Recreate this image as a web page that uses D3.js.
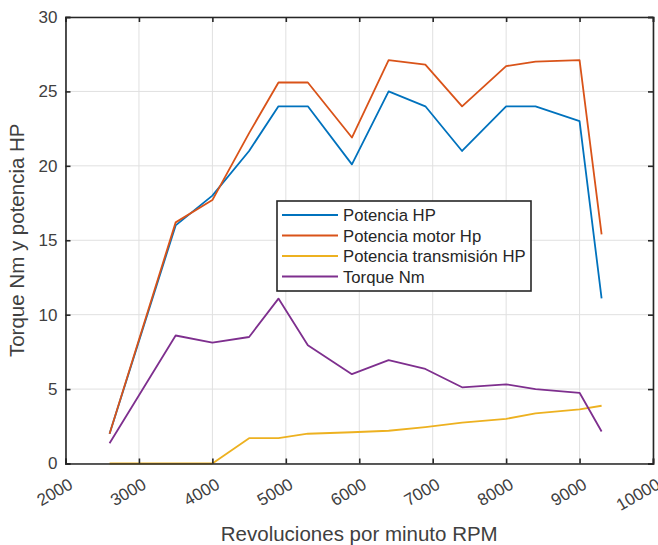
<!DOCTYPE html>
<html>
<head>
<meta charset="utf-8">
<script src="https://cdn.jsdelivr.net/npm/d3@7"></script>
<style>
  html, body { margin: 0; padding: 0; background: #fff; }
  text { font-family: "Liberation Sans", Arial, sans-serif; }
</style>
</head>
<body>
<svg id="chart" width="658" height="545"></svg>
<script>
// Engine speed samples (RPM)
const rpm = [2600, 3500, 4000, 4500, 4900, 5300, 5900, 6400, 6900, 7400, 8000, 8400, 9000, 9300];

// Measured series
const potenciaHP = [2, 16, 18, 21, 24, 24, 20.1, 25, 24, 21, 24, 24, 23, 11.1];
const potenciaMotorHp = [2, 16.2, 17.7, 22.2, 25.6, 25.6, 21.9, 27.1, 26.8, 24, 26.7, 27, 27.1, 15.4];
const potenciaTransmisionHP = [0, 0, 0, 1.7, 1.7, 2.0, 2.1, 2.2, 2.45, 2.75, 3.0, 3.37, 3.64, 3.88];
const torqueNm = [1.36, 8.6, 8.12, 8.5, 11.08, 7.94, 6.0, 6.95, 6.35, 5.12, 5.32, 5.0, 4.75, 2.15];

const seriesNames = ["Potencia HP", "Potencia motor Hp", "Potencia transmisión HP", "Torque Nm"];
const seriesColors = ["#0072BD", "#D95319", "#EDB120", "#7E2F8E"];

const xTicks = [2000, 3000, 4000, 5000, 6000, 7000, 8000, 9000, 10000];
const yTicks = [0, 5, 10, 15, 20, 25, 30];

const svg = d3.select("#chart");
const plotLeft = 65.5, plotRight = 653, plotTop = 17, plotBottom = 463.5;

const x = d3.scaleLinear().domain([2000, 10000]).range([plotLeft, plotRight]);
const y = d3.scaleLinear().domain([0, 30]).range([plotBottom, plotTop]);

const textColor = "#404040";
const axisColor = "#262626";

// Grid
const grid = svg.append("g");
grid.selectAll(".gx").data(xTicks).enter().append("line")
  .attr("x1", d => x(d)).attr("x2", d => x(d))
  .attr("y1", plotTop).attr("y2", plotBottom)
  .attr("stroke", "#e0e0e0").attr("stroke-width", 1);
grid.selectAll(".gy").data(yTicks).enter().append("line")
  .attr("x1", plotLeft).attr("x2", plotRight)
  .attr("y1", d => y(d)).attr("y2", d => y(d))
  .attr("stroke", "#e0e0e0").attr("stroke-width", 1);

// Lines
const series = [potenciaHP, potenciaMotorHp, potenciaTransmisionHP, torqueNm];
const line = d3.line().x((d, i) => x(rpm[i])).y(d => y(d));
series.forEach((vals, k) => {
  svg.append("path")
    .datum(vals)
    .attr("d", line)
    .attr("fill", "none")
    .attr("stroke", seriesColors[k])
    .attr("stroke-width", 1.8)
    .attr("stroke-linejoin", "round");
});

// Axes (box with inward ticks)
const xAxis = svg.append("g").attr("transform", `translate(0,${plotBottom})`)
  .call(d3.axisBottom(x).tickValues(xTicks).tickSize(-5).tickPadding(10).tickFormat(d3.format("d")));
const xAxisTop = svg.append("g").attr("transform", `translate(0,${plotTop})`)
  .call(d3.axisTop(x).tickValues(xTicks).tickSize(-5).tickFormat(""));
const yAxis = svg.append("g").attr("transform", `translate(${plotLeft},0)`)
  .call(d3.axisLeft(y).tickValues(yTicks).tickSize(-5).tickPadding(8));
const yAxisRight = svg.append("g").attr("transform", `translate(${plotRight},0)`)
  .call(d3.axisRight(y).tickValues(yTicks).tickSize(-5).tickFormat(""));

[xAxis, xAxisTop, yAxis, yAxisRight].forEach(g => {
  g.select(".domain").attr("stroke", axisColor).attr("stroke-width", 1.6);
  g.selectAll(".tick line").attr("stroke", axisColor).attr("stroke-width", 1.6);
});
yAxis.selectAll(".tick text").attr("font-size", 17).attr("fill", textColor)
  .attr("font-family", "'Liberation Sans', Arial, sans-serif");
xAxis.selectAll(".tick text")
  .attr("font-size", 17).attr("fill", textColor)
  .attr("font-family", "'Liberation Sans', Arial, sans-serif")
  .attr("text-anchor", "end")
  .attr("dy", null)
  .attr("transform", "translate(3,15.5) rotate(-30)");

// Axis titles
svg.append("text")
  .attr("x", (plotLeft + plotRight) / 2).attr("y", 541)
  .attr("text-anchor", "middle").attr("font-size", 20.5).attr("fill", textColor)
  .text("Revoluciones por minuto RPM");
svg.append("text")
  .attr("transform", `translate(24,${(plotTop + plotBottom) / 2}) rotate(-90)`)
  .attr("text-anchor", "middle").attr("font-size", 20.5).attr("fill", textColor)
  .text("Torque Nm y potencia HP");

// Legend
const lg = svg.append("g").attr("transform", "translate(277,201)");
lg.append("rect").attr("width", 254).attr("height", 90)
  .attr("fill", "#fff").attr("stroke", axisColor).attr("stroke-width", 1.6);
seriesNames.forEach((name, i) => {
  const yy = 14 + i * 20.5;
  lg.append("line").attr("x1", 5).attr("x2", 61).attr("y1", yy).attr("y2", yy)
    .attr("stroke", seriesColors[i]).attr("stroke-width", 1.8);
  lg.append("text").attr("x", 66).attr("y", yy + 6)
    .attr("font-size", 16.7).attr("fill", "#262626").text(name);
});
</script>
</body>
</html>
